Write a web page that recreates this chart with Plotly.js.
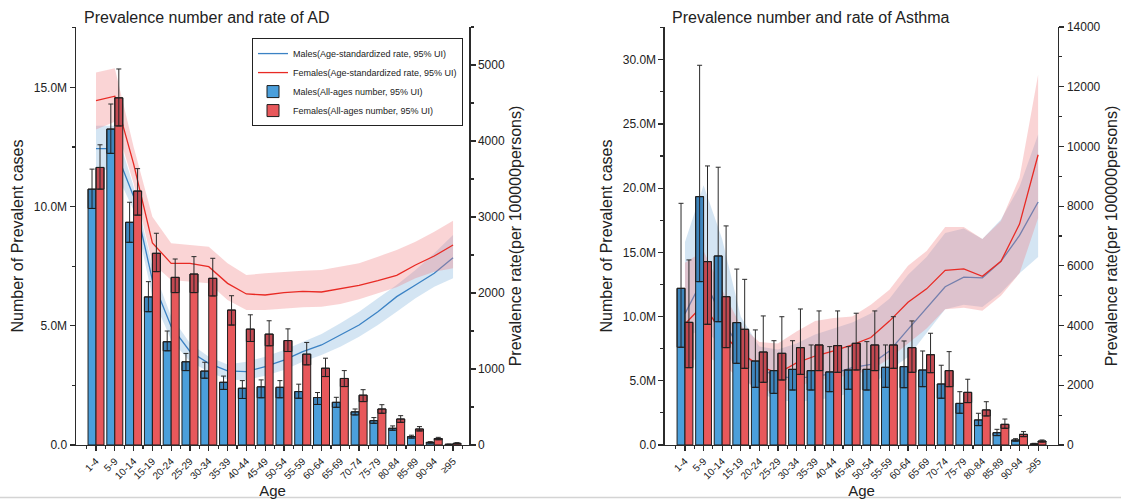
<!DOCTYPE html>
<html>
<head>
<meta charset="utf-8">
<script src="https://cdn.plot.ly/plotly-3.0.1.min.js"></script>
<style>html,body{margin:0;padding:0;background:#fff;}#chart{width:1121px;height:501px;}</style>
</head>
<body>
<div id="chart"></div>
<script>
// ---------- categories ----------
const ageGroups = ['1-4','5-9','10-14','15-19','20-24','25-29','30-34','35-39','40-44','45-49','50-54','55-59','60-64','65-69','70-74','75-79','80-84','85-89','90-94','\u226595'];

// ---------- AD : prevalent cases (millions) ----------
const adMaleCases      = [10.73,13.25,9.34,6.21,4.33,3.49,3.10,2.63,2.38,2.44,2.42,2.24,1.99,1.79,1.39,1.02,0.70,0.35,0.11,0.03];
const adMaleCasesLow   = [9.92,12.23,8.50,5.59,3.95,3.12,2.80,2.33,1.95,1.98,1.98,1.96,1.70,1.58,1.26,0.91,0.62,0.29,0.08,0.02];
const adMaleCasesHigh  = [11.57,14.30,10.18,6.85,4.78,3.84,3.47,2.89,2.70,2.73,2.70,2.55,2.20,2.00,1.51,1.15,0.80,0.41,0.14,0.04];
const adFemaleCases     = [11.64,14.56,10.65,8.04,7.03,7.17,6.99,5.66,4.86,4.65,4.38,3.81,3.22,2.79,2.09,1.51,1.09,0.67,0.27,0.07];
const adFemaleCasesLow  = [10.73,13.38,9.64,7.27,6.39,6.39,6.25,5.03,4.34,4.16,3.92,3.36,2.87,2.45,1.82,1.33,0.95,0.59,0.22,0.05];
const adFemaleCasesHigh = [12.59,15.77,11.59,8.88,7.80,7.90,7.83,6.26,5.46,5.21,4.87,4.30,3.64,3.12,2.32,1.69,1.23,0.77,0.32,0.10];
// ---------- AD : prevalence rate (per 100000) ----------
const adMaleRate      = [3900,3900,3270,2170,1560,1230,1075,975,965,1031,1118,1228,1316,1447,1579,1754,1952,2105,2259,2465];
const adMaleRateHigh  = [4200,4200,3400,2350,1690,1340,1160,1060,1096,1162,1250,1360,1460,1601,1754,1930,2105,2303,2522,2763];
const adMaleRateLow   = [3620,3620,3090,1950,1380,1100,965,860,855,912,987,1096,1184,1294,1425,1579,1754,1930,2083,2193];
const adFemaleRate     = [4530,4590,3700,2660,2390,2390,2346,2127,1987,1974,2004,2022,2013,2053,2101,2162,2232,2368,2487,2632];
const adFemaleRateHigh = [4900,4956,3925,3004,2654,2632,2610,2390,2237,2259,2281,2294,2303,2346,2390,2478,2566,2675,2807,2952];
const adFemaleRateLow  = [4150,4254,3443,2390,2171,2149,2127,1908,1776,1776,1789,1811,1820,1855,1917,1996,2075,2193,2281,2325];

// ---------- Asthma : prevalent cases (millions) ----------
const asMaleCases      = [12.20,19.34,14.72,9.53,6.54,5.79,5.89,5.79,5.69,5.84,5.89,6.05,6.10,5.84,4.75,3.24,1.95,0.96,0.39,0.08];
const asMaleCasesLow   = [7.61,12.72,9.60,6.36,4.49,4.02,4.28,4.28,4.15,4.34,4.28,4.49,4.46,4.54,3.64,2.47,1.51,0.73,0.30,0.05];
const asMaleCasesHigh  = [18.82,29.57,21.63,13.70,8.96,8.12,8.12,7.79,7.66,7.66,8.05,7.79,8.10,7.32,6.21,4.15,2.47,1.22,0.49,0.13];
const asFemaleCases     = [9.55,14.28,11.55,9.01,7.24,7.14,7.58,7.79,7.74,7.92,7.79,7.79,7.58,7.03,5.79,4.10,2.73,1.61,0.83,0.31];
const asFemaleCasesLow  = [6.02,9.40,7.58,5.97,4.88,5.06,5.50,5.79,5.66,5.84,5.79,5.97,5.66,5.63,4.54,3.30,2.26,1.30,0.65,0.23];
const asFemaleCasesHigh = [14.41,21.73,17.06,12.90,10.05,9.99,10.59,10.44,10.44,10.26,10.44,9.99,9.66,8.70,7.27,5.12,3.37,2.02,1.04,0.39];
// ---------- Asthma : prevalence rate (per 100000) ----------
const asMaleRate      = [4400,5600,4250,3150,2550,2300,2230,2300,2400,2590,2700,3150,3870,4570,5300,5620,5600,6150,7020,8137];
const asMaleRateHigh  = [6800,8700,6900,4300,3300,3200,3400,3700,3900,4100,4400,4900,5700,6300,7100,7250,6900,7550,8650,10400];
const asMaleRateLow   = [3600,3900,3300,2350,1750,1500,1450,1500,1600,1750,1950,2500,2950,3750,4550,4700,4620,5100,5750,6300];
const asFemaleRate     = [4050,4700,3750,3100,2650,2400,2750,2980,3150,3350,3600,4150,4780,5230,5850,5900,5650,6150,7400,9720];
const asFemaleRateHigh = [6100,6500,5200,4000,3450,3400,3800,4150,4250,4300,4700,5200,6000,6500,7300,7300,6900,7500,8950,12400];
const asFemaleRateLow  = [2700,3000,2700,2200,1850,1750,1950,2150,2250,2350,2500,2900,3400,3900,4550,4600,4500,5000,5750,7600];

// ---------- axis tick labels ----------
const adCaseTicks = [0,5,10,15];
const adCaseTickText = ['0.0','5.0M','10.0M','15.0M'];
const adRateTicks = [0,1000,2000,3000,4000,5000];
const asCaseTicks = [0,5,10,15,20,25,30];
const asCaseTickText = ['0.0','5.0M','10.0M','15.0M','20.0M','25.0M','30.0M'];
const asRateTicks = [0,2000,4000,6000,8000,10000,12000,14000];

// ---------- styles ----------
const FONT = 'Liberation Sans, Arial, sans-serif';
const BLUE = '#4b9fdb', RED = '#e8585b';
const BLUE_LINE = '#3b82c4', RED_LINE = '#e82a24';
const BLUE_BAND = 'rgba(125,175,218,0.33)', RED_BAND = 'rgba(238,120,125,0.32)';
const EDGE = '#1e1e1e';
const idx = ageGroups.map((_, i) => i);

function sub(a, b) { return a.map((v, i) => v - b[i]); }

// rates on the base axis (drawn first, behind), cases on the overlaying axis (drawn on top)
function panel(xa, yRate, yCase, d, legend) {
  const tr = [];
  const lines = [
    {v: d.mr, lo: d.mrl, hi: d.mrh, col: BLUE_LINE, band: BLUE_BAND, name: 'Males(Age-standardized rate, 95% UI)', rank: 1},
    {v: d.fr, lo: d.frl, hi: d.frh, col: RED_LINE, band: RED_BAND, name: 'Females(Age-standardized rate, 95% UI)', rank: 2}
  ];
  lines.forEach(l => {
    tr.push({type: 'scatter', mode: 'lines', x: idx.concat(idx.slice().reverse()),
      y: l.hi.concat(l.lo.slice().reverse()), fill: 'toself', fillcolor: l.band,
      line: {width: 0, color: 'rgba(0,0,0,0)'}, xaxis: xa, yaxis: yRate, showlegend: false, hoverinfo: 'skip'});
    tr.push({type: 'scatter', mode: 'lines', x: idx, y: l.v, xaxis: xa, yaxis: yRate, name: l.name,
      legendrank: l.rank, showlegend: legend, line: {color: l.col, width: 1.3}});
  });
  const bars = [
    {v: d.mc, lo: d.mcl, hi: d.mch, col: BLUE, g: 'm', name: 'Males(All-ages number, 95% UI)', rank: 3},
    {v: d.fc, lo: d.fcl, hi: d.fch, col: RED, g: 'f', name: 'Females(All-ages number, 95% UI)', rank: 4}
  ];
  bars.forEach(b => {
    tr.push({type: 'bar', x: idx, y: b.v, xaxis: xa, yaxis: yCase, offsetgroup: b.g, name: b.name,
      legendrank: b.rank, showlegend: legend,
      marker: {color: b.col, line: {color: EDGE, width: 1}},
      error_y: {type: 'data', symmetric: false, array: sub(b.hi, b.v), arrayminus: sub(b.v, b.lo),
        color: '#2a2a2a', thickness: 1, width: 2.5}});
    tr.push({type: 'bar', x: idx, y: sub(b.v, b.lo), base: b.lo, xaxis: xa, yaxis: yCase, offsetgroup: b.g,
      showlegend: false, hoverinfo: 'skip',
      marker: {color: 'rgba(0,0,30,0.16)', line: {color: EDGE, width: 1}}});
  });
  return tr;
}

const data = [].concat(
  panel('x', 'y', 'y2', {mc: adMaleCases, mcl: adMaleCasesLow, mch: adMaleCasesHigh,
    fc: adFemaleCases, fcl: adFemaleCasesLow, fch: adFemaleCasesHigh,
    mr: adMaleRate, mrl: adMaleRateLow, mrh: adMaleRateHigh,
    fr: adFemaleRate, frl: adFemaleRateLow, frh: adFemaleRateHigh}, true),
  panel('x2', 'y3', 'y4', {mc: asMaleCases, mcl: asMaleCasesLow, mch: asMaleCasesHigh,
    fc: asFemaleCases, fcl: asFemaleCasesLow, fch: asFemaleCasesHigh,
    mr: asMaleRate, mrl: asMaleRateLow, mrh: asMaleRateHigh,
    fr: asFemaleRate, frl: asFemaleRateLow, frh: asFemaleRateHigh}, false)
);

const axisBase = {showline: true, linecolor: '#2b2b2b', linewidth: 1.5, ticks: 'outside', ticklen: 5,
  tickwidth: 1.2, tickcolor: '#2b2b2b', showgrid: false, zeroline: false, automargin: false,
  tickfont: {family: FONT, size: 12, color: '#222'}};
const YDOM = [0.1118, 0.9461];

function xAxis(dom, range, anchor) {
  return Object.assign({}, axisBase, {domain: dom, range: range, anchor: anchor,
    tickmode: 'array', tickvals: idx, ticktext: ageGroups, tickangle: -45,
    tickfont: {family: FONT, size: 10, color: '#222'},
    minor: {tickmode: 'linear', tick0: -0.5, dtick: 1, ticks: 'outside', ticklen: 3, tickcolor: '#2b2b2b'},
    title: {text: 'Age', font: {family: FONT, size: 15, color: '#222'}, standoff: 2}});
}
function yAxis(range, vals, text, minorStep, anchor, titleText, extra) {
  const minorVals = [];
  for (let v = minorStep; v <= range[1] + 1e-9; v += 2 * minorStep) minorVals.push(v);
  return Object.assign({}, axisBase, {range: range, anchor: anchor, tickmode: 'array', tickvals: vals,
    ticktext: text,
    minor: {tickmode: 'array', tickvals: minorVals, ticks: 'outside', ticklen: 3, tickcolor: '#2b2b2b'},
    title: {text: titleText, font: {family: FONT, size: 16, color: '#222'}, standoff: 6}}, extra);
}

const layout = {
  width: 1121, height: 501, margin: {l: 0, r: 0, t: 0, b: 0},
  paper_bgcolor: '#fff', plot_bgcolor: 'rgba(0,0,0,0)',
  font: {family: FONT, color: '#222'},
  barmode: 'group', bargap: 0.15, bargroupgap: 0,
  showlegend: true,
  legend: {x: 0.2248, y: 0.924, xanchor: 'left', yanchor: 'top', bgcolor: '#fff',
    bordercolor: '#222', borderwidth: 1, font: {family: FONT, size: 9, color: '#222'},
    traceorder: 'normal', itemwidth: 30},
  xaxis: xAxis([0.0678, 0.4184], [-1.065, 19.85], 'y'),
  yaxis: yAxis([0, 5500], adRateTicks, adRateTicks.map(String), 500, 'x', 'Prevalence rate(per 100000persons)',
    {domain: YDOM, side: 'right'}),
  yaxis2: yAxis([0, 17.53], adCaseTicks, adCaseTickText, 2.5, 'x', 'Number of Prevalent cases',
    {overlaying: 'y', side: 'left'}),
  xaxis2: xAxis([0.5932, 0.9438], [-1.076, 20.07], 'y3'),
  yaxis3: yAxis([0, 14000], asRateTicks, asRateTicks.map(String), 1000, 'x2', 'Prevalence rate(per 100000persons)',
    {domain: YDOM, side: 'right'}),
  yaxis4: yAxis([0, 32.55], asCaseTicks, asCaseTickText, 2.5, 'x2', 'Number of Prevalent cases',
    {overlaying: 'y3', side: 'left'}),
  annotations: [
    {text: 'Prevalence number and rate of AD', xref: 'paper', yref: 'paper', x: 82 / 1121, y: 1 - 18 / 501,
      xanchor: 'left', yanchor: 'middle', showarrow: false, font: {family: FONT, size: 16, color: '#222'}},
    {text: 'Prevalence number and rate of Asthma', xref: 'paper', yref: 'paper', x: 670 / 1121, y: 1 - 18 / 501,
      xanchor: 'left', yanchor: 'middle', showarrow: false, font: {family: FONT, size: 16, color: '#222'}}
  ],
  shapes: [
    {type: 'line', xref: 'paper', yref: 'paper', x0: 0, x1: 1, y0: 1 - 497.5 / 501, y1: 1 - 497.5 / 501,
      line: {color: '#d4d4d4', width: 1.5}}
  ]
};

Plotly.newPlot('chart', data, layout, {displayModeBar: false, staticPlot: true});
</script>
</body>
</html>
